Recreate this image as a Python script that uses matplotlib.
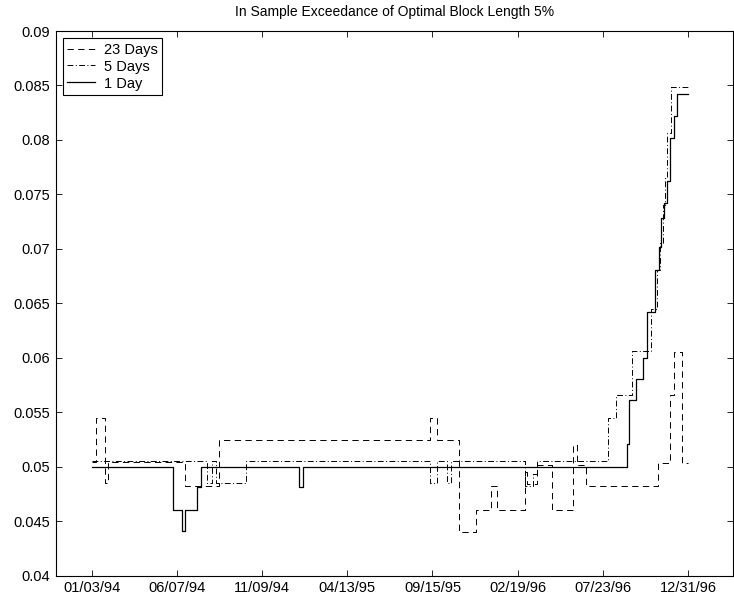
import matplotlib
matplotlib.use("Agg")
import matplotlib.pyplot as plt
import numpy as np

plt.rcParams['font.family'] = ['Liberation Sans', 'DejaVu Sans']

# x positions are trading-day indices (0 = 01/03/94, 756 = 12/31/96)
tick_pos = [0, 108, 216, 324, 432, 540, 648, 756]
tick_labels = ["01/03/94", "06/07/94", "11/09/94", "04/13/95",
               "09/15/95", "02/19/96", "07/23/96", "12/31/96"]

# 23 Days (step changes: index, value)
d23_idx = [0, 6, 17, 21, 118, 162, 429, 438, 465, 487, 506, 514, 549, 552,
           564, 583, 610, 615, 627, 718, 733, 738, 748, 756]
d23_val = [0.0504, 0.0545, 0.0485, 0.0504, 0.0482, 0.0525, 0.0545, 0.0525,
           0.0440, 0.0460, 0.0482, 0.0460, 0.0495, 0.0484, 0.0502, 0.0460,
           0.0520, 0.0502, 0.0482, 0.0503, 0.0566, 0.0605, 0.0503, 0.0503]

# 5 Days
d5_idx = [0, 146, 153, 157, 196, 429, 438, 451, 456, 549, 559, 564, 655,
          665, 685, 709, 717, 721, 724, 727, 729, 734, 756]
d5_val = [0.0505, 0.0485, 0.0505, 0.0485, 0.0505, 0.0485, 0.0505, 0.0485,
          0.0505, 0.0482, 0.0493, 0.0505, 0.0545, 0.0566, 0.0606, 0.0645,
          0.0681, 0.0705, 0.0740, 0.0765, 0.0806, 0.0849, 0.0849]

# 1 Day
d1_idx = [0, 103, 114, 118, 133, 138, 263, 268, 679, 681, 690, 699, 704,
          714, 719, 722, 725, 729, 733, 738, 742, 756]
d1_val = [0.0500, 0.0460, 0.0441, 0.0460, 0.0481, 0.0500, 0.0481, 0.0500,
          0.0521, 0.0561, 0.0581, 0.0600, 0.0642, 0.0681, 0.0702, 0.0728,
          0.0742, 0.0762, 0.0802, 0.0822, 0.0842, 0.0842]

fig = plt.figure(figsize=(7.34, 6.02), dpi=100)
ax = fig.add_axes([0.0759, 0.0437, 0.9228, 0.9048])

l23, = ax.plot(d23_idx, d23_val, drawstyle='steps-post', color='black',
               lw=0.7, label='23 Days')
l23.set_dashes((6.5, 4.5))
l5, = ax.plot(d5_idx, d5_val, drawstyle='steps-post', color='black',
              lw=0.7, label='5 Days')
l5.set_dashes((6, 2.5, 1, 2.5))
l1, = ax.plot(d1_idx, d1_val, drawstyle='steps-post', color='black',
              lw=0.9, label='1 Day')

ax.set_xlim(-45.6, 813)
ax.set_ylim(0.04, 0.09)
ax.set_xticks(tick_pos)
ax.set_xticklabels(tick_labels)
yt = [0.04, 0.045, 0.05, 0.055, 0.06, 0.065, 0.07, 0.075, 0.08, 0.085, 0.09]
ax.set_yticks(yt)
ax.set_yticklabels([("%g" % v) for v in yt])
ax.tick_params(direction='in', length=4, width=0.6, top=True, right=True,
               labelsize=10.5, pad=4, colors='black')
for s in ax.spines.values():
    s.set_linewidth(0.8)
    s.set_color('black')

ax.set_title("In Sample Exceedance of Optimal Block Length 5%", fontsize=10,
             pad=11)

leg = ax.legend(loc='upper left', fontsize=10.5, fancybox=False,
                edgecolor='black', framealpha=1, borderaxespad=0.5,
                handlelength=1.9, handletextpad=0.6, labelspacing=0.2,
                borderpad=0.3)
leg.get_frame().set_linewidth(0.8)

fig.savefig("out.png", dpi=100)
